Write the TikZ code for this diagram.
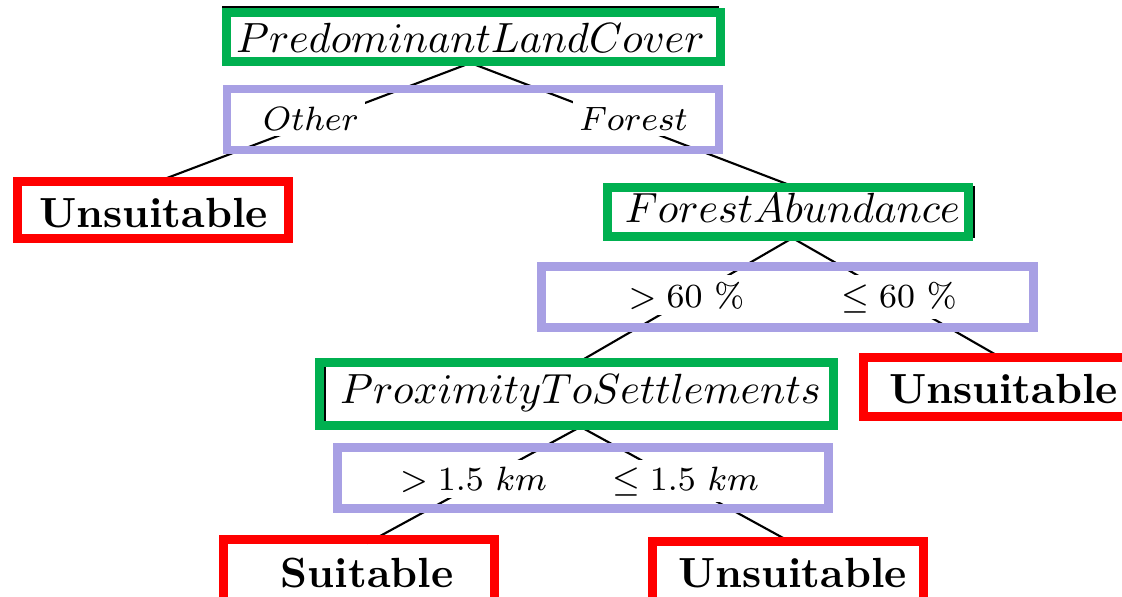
\documentclass[tikz,border=0pt]{standalone}
\usetikzlibrary{backgrounds}
\definecolor{splitgreen}{RGB}{0,176,80}
\definecolor{branchviolet}{RGB}{168,160,228}
\definecolor{leafred}{RGB}{255,0,0}
\begin{document}
\begin{tikzpicture}[x=0.237pt,y=-0.237pt,
  attr/.style={draw=black,line width=0.5pt,inner sep=0pt,anchor=base},
  leaf/.style={inner sep=0pt,anchor=base,text height=10.2pt,text depth=3pt,font=\bfseries},
  branch/.style={fill=white,inner sep=1.5pt,anchor=base,font=\footnotesize},
  edge/.style={line width=0.5pt},
  gframe/.style={draw=splitgreen,line width=2pt},
  pframe/.style={draw=branchviolet,line width=2pt},
  rframe/.style={draw=leafred,line width=2pt}]
\clip (0,0) rectangle (1122,597);

% attribute (split) nodes
\node[attr,minimum width=117.1pt,text height=10.7pt,text depth=2.35pt]
  (landcover) at (470.5,52) {$PredominantLandCover$};
\node[attr,minimum width=86pt,text height=8.25pt,text depth=3.55pt]
  (abundance) at (792.5,222) {$ForestAbundance$};
\node[attr,minimum width=121.3pt,text height=9.7pt,text depth=5.4pt]
  (proximity) at (580.5,403) {$ProximityToSettlements$};

% leaves
\node[leaf] (unsuitA) at (153.5,227) {Unsuitable};
\node[leaf] (unsuitB) at (1003.5,403) {Unsuitable};
\node[leaf] (suit)    at (367,587) {Suitable};
\node[leaf] (unsuitC) at (792.5,587) {Unsuitable};

% branch labels
\node[branch] (other)  at (311,130)   {$Other$};
\node[branch] (forest) at (633.5,130) {$Forest$};
\node[branch] (gtsixty) at (686.5,307) {$>60\ \%$};
\node[branch] (lesixty) at (899,307)   {$\leq 60\ \%$};
\node[branch] (gtkm) at (473.5,490) {$>1.5\ km$};
\node[branch] (lekm) at (685.5,490) {$\leq 1.5\ km$};

% tree edges
\begin{scope}[on background layer]
  \draw[edge] (landcover.south) -- (unsuitA.north);
  \draw[edge] (landcover.south) -- (abundance.north);
  \draw[edge] (abundance.south) -- (proximity.north);
  \draw[edge] (abundance.south) -- (unsuitB.north);
  \draw[edge] (proximity.south) -- (suit.north);
  \draw[edge] (proximity.south) -- (unsuitC.north);
\end{scope}

% highlight frames
\draw[gframe] (226.3,12.3) rectangle (720.7,61.7);
\draw[gframe] (607.3,187.3) rectangle (968.7,236.7);
\draw[gframe] (319.3,362.3) rectangle (833.7,425.7);
\draw[pframe] (227,89) rectangle (719,150);
\draw[pframe] (541.3,266.3) rectangle (1033.7,327.7);
\draw[pframe] (337.3,447.3) rectangle (828.7,508.7);
\draw[rframe] (17.3,181.3) rectangle (288.7,238.7);
\draw[rframe] (863.3,357.3) rectangle (1140,416.7);
\draw[rframe] (223.3,539.3) rectangle (494.7,610);
\draw[rframe] (652.3,541.3) rectangle (923.7,610);
\end{tikzpicture}
\end{document}
